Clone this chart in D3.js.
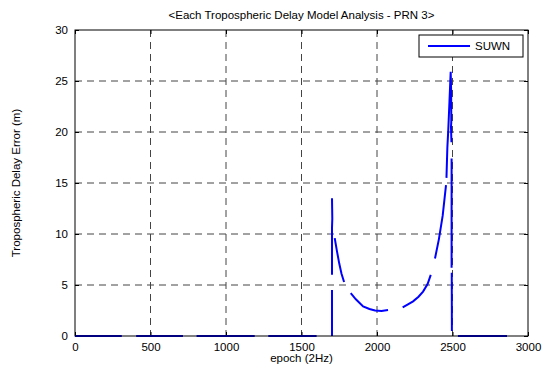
<!DOCTYPE html>
<html>
<head>
<meta charset="utf-8">
<script src="https://cdn.jsdelivr.net/npm/d3@7"></script>
<style>
  body { margin: 0; background: #fff; }
  svg { font-family: "Liberation Sans", Arial, sans-serif; }
</style>
</head>
<body>
<div id="chart"></div>
<script>
// data, null = gap in the record
const epochs = [
  0, 310, null,
  405, 715, null,
  805, 1190, null,
  1280, 1600, null,
  1702, 1702, null,
  1702, 1702, 1704, 1703, 1702, null,
  1720, 1735, 1750, 1765, 1782, null,
  1826, 1860, 1908, 1950, 1987, 2030, 2073, null,
  2170, 2205, 2239, 2275, 2305, 2335, 2356, null,
  2384, 2410, 2435, 2457, null,
  2460, 2466, 2472, 2480, 2488, 2491, 2492, 2490, 2493, null,
  2494, 2494, null,
  2495, 2496, null,
  2536, 2861
];
const delay = [
  0, 0, null,
  0, 0, null,
  0, 0, null,
  0, 0, null,
  0, 4.5, null,
  6.0, 10.6, 11.5, 12.5, 13.5, null,
  9.6, 8.3, 7.1, 6.1, 5.3, null,
  4.2, 3.6, 2.9, 2.65, 2.5, 2.45, 2.55, null,
  2.8, 3.1, 3.4, 3.85, 4.35, 5.1, 6.0, null,
  7.6, 9.5, 11.8, 14.8, null,
  15.5, 18.5, 20.2, 23, 25.9, 24, 21, 20.5, 19, null,
  17.4, 6.7, null,
  6.2, 0.5, null,
  0, 0
];
const xTicks = [0, 500, 1000, 1500, 2000, 2500, 3000];
const yTicks = [0, 5, 10, 15, 20, 25, 30];
const seriesName = "SUWN";

const data = epochs.map((e, i) => ({ x: e, y: delay[i] }));

const margin = { top: 30, right: 14, bottom: 34, left: 75 };
const width = 542 - margin.left - margin.right;
const height = 370 - margin.top - margin.bottom;

const svg = d3
  .select("#chart")
  .append("svg")
  .attr("width", 542)
  .attr("height", 370);

const g = svg
  .append("g")
  .attr("transform", `translate(${margin.left}, ${margin.top})`);

const xScale = d3.scaleLinear().domain([0, 3000]).range([0, width]);
const yScale = d3.scaleLinear().domain([0, 30]).range([height, 0]);

// grid
g.selectAll(".vgrid")
  .data(xTicks.slice(1, -1))
  .enter()
  .append("line")
  .attr("x1", (d) => xScale(d))
  .attr("x2", (d) => xScale(d))
  .attr("y1", 0)
  .attr("y2", height)
  .attr("stroke", "#444")
  .attr("stroke-dasharray", "7,5");

g.selectAll(".hgrid")
  .data(yTicks.slice(1, -1))
  .enter()
  .append("line")
  .attr("x1", 0)
  .attr("x2", width)
  .attr("y1", (d) => yScale(d))
  .attr("y2", (d) => yScale(d))
  .attr("stroke", "#444")
  .attr("stroke-dasharray", "7,5");

// axes, ticks inward
const xAxis = d3.axisBottom(xScale).tickValues(xTicks).tickFormat(d3.format("d")).tickSize(-4).tickPadding(7);
const yAxis = d3.axisLeft(yScale).tickValues(yTicks).tickFormat(d3.format("d")).tickSize(-4).tickPadding(7);

const xg = g.append("g").attr("transform", `translate(0, ${height})`).call(xAxis);
const yg = g.append("g").call(yAxis);
g.append("g").call(d3.axisTop(xScale).tickValues(xTicks).tickSize(-4).tickFormat(""));
g.append("g").attr("transform", `translate(${width}, 0)`)
  .call(d3.axisRight(yScale).tickValues(yTicks).tickSize(-4).tickFormat(""));

g.selectAll(".domain").remove();
g.selectAll(".tick line").attr("stroke", "#000");
[xg, yg].forEach((a) =>
  a.selectAll("text").attr("font-size", "11.5px").attr("fill", "#000")
    .attr("font-family", "Liberation Sans, Arial, sans-serif")
);

// the line
const line = d3
  .line()
  .defined((d) => d.x !== null && d.y !== null)
  .x((d) => xScale(d.x))
  .y((d) => yScale(d.y));

g.append("path")
  .datum(data)
  .attr("fill", "none")
  .attr("stroke", "#0000ff")
  .attr("stroke-width", 2)
  .attr("d", line);

// box
g.append("rect")
  .attr("x", 0)
  .attr("y", 0)
  .attr("width", width)
  .attr("height", height)
  .attr("fill", "none")
  .attr("stroke", "#000")
  .attr("stroke-width", 1);

// legend
const lg = g.append("g").attr("transform", `translate(${width - 109}, 5)`);
lg.append("rect")
  .attr("width", 104)
  .attr("height", 22)
  .attr("fill", "#fff")
  .attr("stroke", "#000");
lg.append("line")
  .attr("x1", 9).attr("x2", 51)
  .attr("y1", 11).attr("y2", 11)
  .attr("stroke", "#0000ff")
  .attr("stroke-width", 2);
lg.append("text")
  .attr("x", 56).attr("y", 15)
  .attr("font-size", "11.5px")
  .text(seriesName);

// title and labels
svg.append("text")
  .attr("x", margin.left + width / 2)
  .attr("y", 19)
  .attr("text-anchor", "middle")
  .attr("font-size", "11.5px")
  .text("<Each Tropospheric Delay Model Analysis - PRN 3>");

svg.append("text")
  .attr("x", margin.left + width / 2)
  .attr("y", 362)
  .attr("text-anchor", "middle")
  .attr("font-size", "11.5px")
  .text("epoch (2Hz)");

svg.append("text")
  .attr("transform", `translate(20, ${margin.top + height / 2}) rotate(-90)`)
  .attr("text-anchor", "middle")
  .attr("font-size", "11.5px")
  .text("Tropospheric Delay Error (m)");
</script>
</body>
</html>
